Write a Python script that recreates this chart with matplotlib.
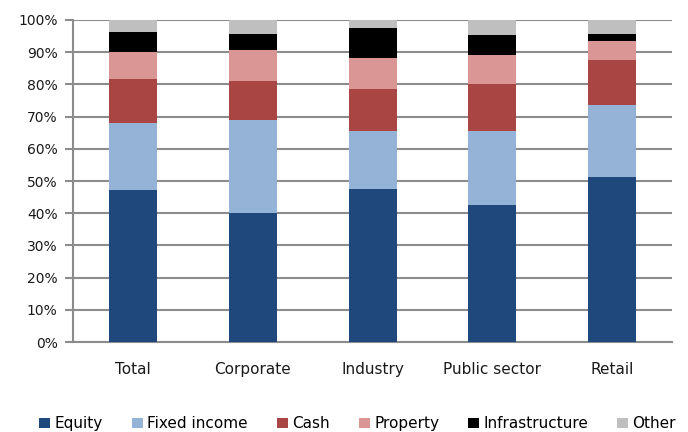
import numpy as np
import matplotlib
matplotlib.use("Agg")
import matplotlib.pyplot as plt
from matplotlib.ticker import PercentFormatter

categories = ["Total", "Corporate", "Industry", "Public sector", "Retail"]
series = ["Equity", "Fixed income", "Cash", "Property", "Infrastructure", "Other"]

equity = [47.1, 40.0, 47.4, 42.5, 51.3]
fixed_income = [21.0, 29.0, 18.1, 23.0, 22.2]
cash = [13.6, 12.0, 13.2, 14.5, 13.9]
property_ = [8.3, 9.7, 9.5, 9.0, 5.9]
infrastructure = [6.2, 5.0, 9.4, 6.2, 2.2]
other = [3.8, 4.3, 2.4, 4.8, 4.5]

colors = ["#1F497D", "#95B3D7", "#A94542", "#D99694", "#000000", "#BFBFBF"]

plt.rcParams["font.family"] = ["DejaVu Sans"]
fig = plt.figure(figsize=(6.88, 4.32), dpi=100)
ax = fig.add_axes([0.106, 0.208, 0.871, 0.746])

x = np.arange(len(categories))
bottom = np.zeros(len(categories))
for name, vals, c in zip(series, [equity, fixed_income, cash, property_, infrastructure, other], colors):
    ax.bar(x, vals, 0.4, bottom=bottom, color=c, label=name, zorder=3)
    bottom += np.array(vals)

ax.set_xlim(-0.5, 4.5)
ax.set_ylim(0, 100)
ax.set_yticks(np.arange(0, 101, 10))
ax.yaxis.set_major_formatter(PercentFormatter(decimals=0))
ax.set_xticks(x)
ax.set_xticklabels(categories)
ax.grid(axis="y", color="#8C8C8C", linewidth=1.5, zorder=0)
for s in ["top", "right"]:
    ax.spines[s].set_visible(False)
for s in ["left", "bottom"]:
    ax.spines[s].set_color("#8C8C8C")
    ax.spines[s].set_linewidth(1.5)
ax.tick_params(axis="y", color="#8C8C8C", width=1.5, length=6, pad=5, labelsize=10, colors="#1a1a1a")
ax.tick_params(axis="x", length=0, labelsize=11, pad=14, colors="#1a1a1a")

fig.legend(loc="lower center", bbox_to_anchor=(0.52, -0.03), ncol=6, frameon=False,
           handlelength=0.7, handleheight=0.7, handletextpad=0.3, columnspacing=1.9,
           fontsize=11)

fig.savefig("out.png", dpi=100)
